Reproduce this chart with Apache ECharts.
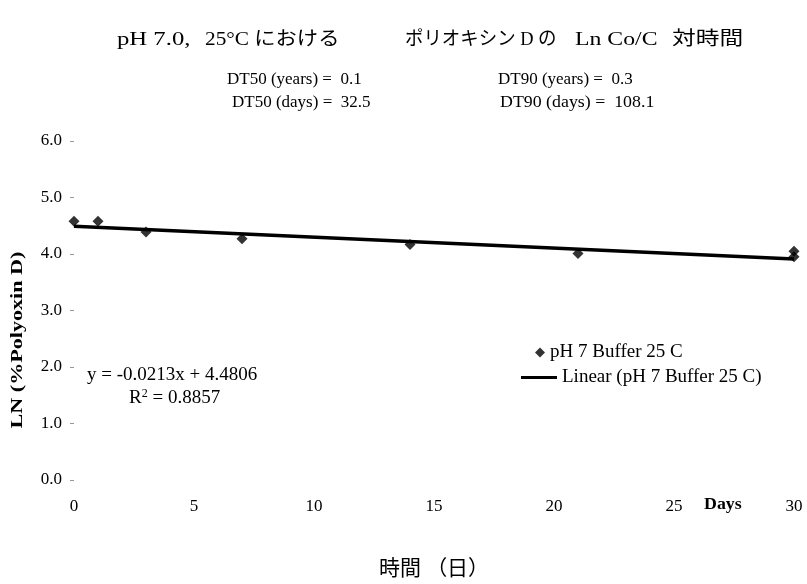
<!DOCTYPE html>
<html><head><meta charset="utf-8">
<script src="https://cdn.jsdelivr.net/npm/echarts@6/dist/echarts.min.js"></script>
<style>html,body{margin:0;padding:0;background:#fff}#c{width:807px;height:584px}</style>
</head><body><div id="c"></div>
<script>
const days = [0, 1, 3, 7, 14, 21, 30, 30];
const lnValues = [4.58, 4.58, 4.39, 4.27, 4.17, 4.01, 4.05, 3.95];
const trendX = [0, 30];
const trendY = [4.49, 3.91];
const xTicks = [0, 5, 10, 15, 20, 25, 30];
const yTicks = [0, 1, 2, 3, 4, 5, 6];
const titleParts = ['pH 7.0,', '25°C における', 'ポリオキシン D の', 'Ln Co/C', '対時間'];
const serif = '"Liberation Serif", "Times New Roman", "Noto Sans CJK JP", serif';

const chart = echarts.init(document.getElementById('c'));
const txt = (x, y, text, size, sx, extra) => ({type:'text', x, y, scaleX:sx || 1,
  style:Object.assign({text, font:size + 'px ' + serif, fill:'#000', align:'left', verticalAlign:'middle'}, extra||{})});
const titleX = [117, 205, 405, 575, 672];
const titleScale = [1.3, 1.12, 0.97, 1.25, 1.25];
chart.setOption({
  animation:false,
  backgroundColor:'#fff',
  grid:{left:74, right:13, top:141, bottom:104, containLabel:false, outerBoundsMode:'none'},
  xAxis:{type:'value', min:0, max:30, interval:5,
    name:'時間 （日）', nameLocation:'middle', nameGap:79,
    nameTextStyle:{fontFamily:serif, fontSize:21, color:'#000'},
    axisLine:{show:false}, axisTick:{show:false}, splitLine:{show:false},
    axisLabel:{margin:18, fontFamily:serif, fontSize:17, color:'#000',
      formatter:v => xTicks.includes(v) ? String(v) : ''}},
  yAxis:{type:'value', min:0, max:6, interval:1,
    axisLine:{show:false}, splitLine:{show:false},
    axisTick:{show:true, length:4, lineStyle:{color:'#999'}},
    axisLabel:{margin:12, fontFamily:serif, fontSize:17, color:'#000',
      formatter:v => yTicks.includes(v) ? v.toFixed(1) : ''}},
  legend:[
    {data:[{name:'pH 7 Buffer 25 C', icon:'diamond'}], left:530, top:338, itemWidth:10, itemHeight:10,
      textStyle:{fontFamily:serif, fontSize:19, color:'#000'}},
    {data:[{name:'Linear (pH 7 Buffer 25 C)', icon:'rect'}], left:516, top:363, itemWidth:36, itemHeight:3,
      textStyle:{fontFamily:serif, fontSize:19, color:'#000'}}
  ],
  series:[
    {name:'pH 7 Buffer 25 C', type:'scatter', symbol:'diamond', symbolSize:11,
      itemStyle:{color:'#000'}, data:days.map((d,i)=>[d, lnValues[i]]), z:3},
    {name:'Linear (pH 7 Buffer 25 C)', type:'line', symbol:'none',
      lineStyle:{color:'#000', width:3.5}, itemStyle:{color:'#000'},
      data:trendX.map((d,i)=>[d, trendY[i]]), z:2}
  ],
  graphic:[
    ...titleParts.map((t,i)=>txt(titleX[i], 40, t, 19, titleScale[i])),
    txt(227, 80, 'DT50 (years) =  0.1', 17),
    txt(232, 103, 'DT50 (days) =  32.5', 17),
    txt(498, 80, 'DT90 (years) =  0.3', 17),
    txt(500, 103, 'DT90 (days) =  108.1', 17, 1.05),
    txt(87, 375, 'y = -0.0213x + 4.4806', 19),
    {type:'text', x:129, y:398, style:{text:'R{s|2} = 0.8857', font:'19px ' + serif, fill:'#000',
      align:'left', verticalAlign:'middle',
      rich:{s:{fontSize:12, verticalAlign:'top', padding:[0,0,9,0], fontFamily:serif}}}},
    txt(704, 505, 'Days', 17, 1.05, {font:'bold 17px ' + serif}),
    {type:'text', x:18, y:340, rotation:Math.PI/2, scaleX:1.3,
      style:{text:'LN (%Polyoxin D)', font:'bold 17px ' + serif, fill:'#000', align:'center', verticalAlign:'middle'}}
  ]
});
</script></body></html>
